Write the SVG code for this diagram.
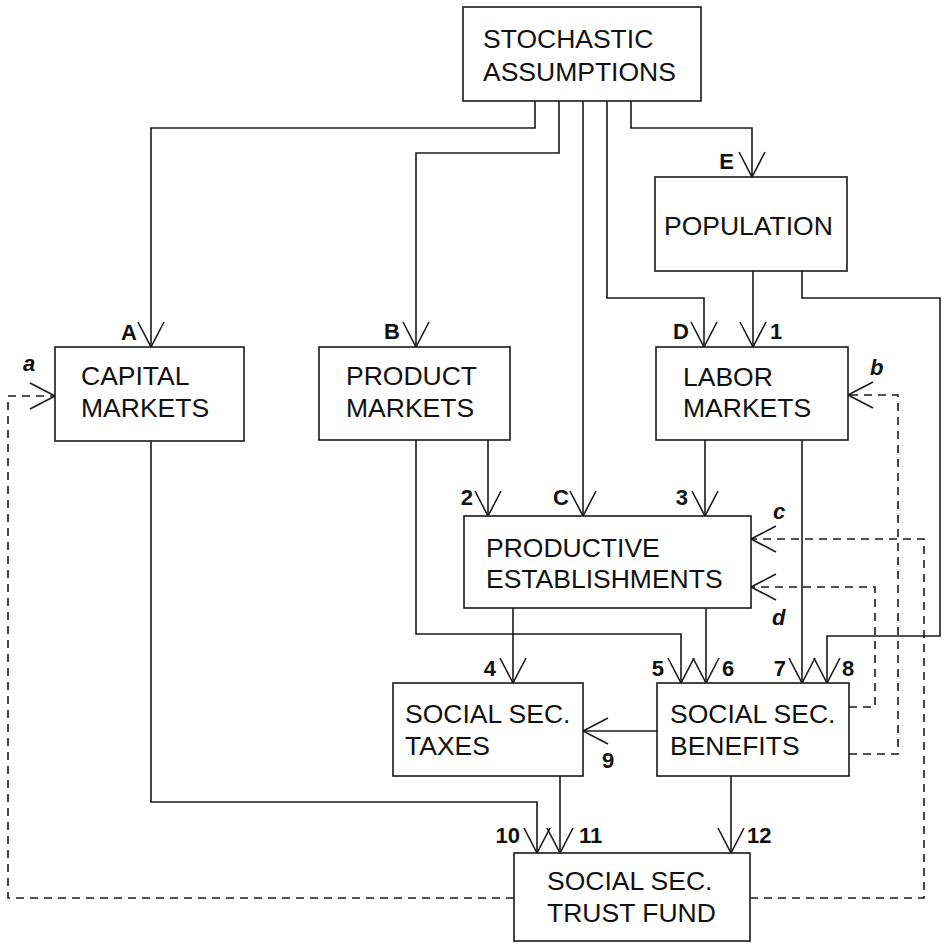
<svg xmlns="http://www.w3.org/2000/svg" width="945" height="945" viewBox="0 0 945 945">
<style>
  .box{fill:#fff;stroke:#1a1a1a;stroke-width:1.6}
  .t{font-family:"Liberation Sans",Arial,Helvetica,sans-serif;font-size:26.5px;fill:#111}
  .lb{font-family:"Liberation Sans",Arial,Helvetica,sans-serif;font-size:22px;font-weight:bold;fill:#111}
  .li{font-family:"Liberation Sans",Arial,Helvetica,sans-serif;font-size:22px;font-weight:bold;font-style:italic;fill:#111}
  .c{fill:none;stroke:#1a1a1a;stroke-width:1.6;marker-end:url(#arr)}
  .d{fill:none;stroke:#1a1a1a;stroke-width:1.6;stroke-dasharray:8 6;marker-end:url(#arr)}
</style>
<defs>
  <marker id="arr" markerUnits="userSpaceOnUse" markerWidth="30" markerHeight="30" viewBox="0 0 30 30" refX="27" refY="15" orient="auto">
    <path d="M2,2 L27,15 L2,28" fill="none" stroke="#1a1a1a" stroke-width="1.6"/>
  </marker>
</defs>
<rect width="945" height="945" fill="#fff"/>
<g id="connectors">
  <path class="c" d="M535,101 V128 H151 V347"/>
  <path class="c" d="M559,101 V153 H416 V347"/>
  <path class="c" d="M583,101 V516"/>
  <path class="c" d="M607,101 V298 H704 V347"/>
  <path class="c" d="M631,101 V128 H752 V177"/>
  <path class="c" d="M753,271 V347"/>
  <path class="c" d="M802,271 V298 H940 V636 H827 V683"/>
  <path class="c" d="M488,440 V516"/>
  <path class="c" d="M416,440 V634 H681 V683"/>
  <path class="c" d="M705,440 V516"/>
  <path class="c" d="M802,440 V683"/>
  <path class="c" d="M513,608 V683"/>
  <path class="c" d="M706,608 V683"/>
  <path class="c" d="M151,441 V802 H537 V853"/>
  <path class="c" d="M560,776 V853"/>
  <path class="c" d="M731,776 V853"/>
  <path class="c" d="M657,731 H583"/>
  <path class="d" d="M514,898 H8 V396 H55"/>
  <path class="d" d="M750,898 H924 V539 H751"/>
  <path class="d" d="M849,754 H898 V395 H848"/>
  <path class="d" d="M849,707 H875 V587 H751"/>
  <text class="lb" x="137" y="340" text-anchor="end">A</text>
  <text class="lb" x="400" y="339" text-anchor="end">B</text>
  <text class="lb" x="569" y="505" text-anchor="end">C</text>
  <text class="lb" x="689" y="339" text-anchor="end">D</text>
  <text class="lb" x="734" y="169" text-anchor="end">E</text>
  <text class="lb" x="770" y="339">1</text>
  <text class="lb" x="473" y="505" text-anchor="end">2</text>
  <text class="lb" x="688" y="505" text-anchor="end">3</text>
  <text class="lb" x="496" y="676" text-anchor="end">4</text>
  <text class="lb" x="664" y="676" text-anchor="end">5</text>
  <text class="lb" x="722" y="676">6</text>
  <text class="lb" x="786" y="676" text-anchor="end">7</text>
  <text class="lb" x="842" y="676">8</text>
  <text class="lb" x="602" y="768">9</text>
  <text class="lb" x="520" y="843" text-anchor="end">10</text>
  <text class="lb" x="579" y="843">11</text>
  <text class="lb" x="747" y="843">12</text>
  <text class="li" x="23" y="371">a</text>
  <text class="li" x="870" y="375">b</text>
  <text class="li" x="773" y="519">c</text>
  <text class="li" x="772" y="625">d</text>
</g>
<g id="stochastic">
  <rect class="box" x="463" y="7" width="238" height="94"/>
  <text class="t" x="483" y="48">STOCHASTIC</text>
  <text class="t" x="483" y="81">ASSUMPTIONS</text>
</g>
<g id="population">
  <rect class="box" x="655" y="177" width="192" height="94"/>
  <text class="t" x="664" y="235">POPULATION</text>
</g>
<g id="capital">
  <rect class="box" x="55" y="347" width="189" height="94"/>
  <text class="t" x="81" y="385">CAPITAL</text>
  <text class="t" x="81" y="417">MARKETS</text>
</g>
<g id="product">
  <rect class="box" x="319" y="347" width="191" height="93"/>
  <text class="t" x="346" y="385">PRODUCT</text>
  <text class="t" x="346" y="417">MARKETS</text>
</g>
<g id="labor">
  <rect class="box" x="656" y="347" width="192" height="93"/>
  <text class="t" x="683" y="386">LABOR</text>
  <text class="t" x="683" y="417">MARKETS</text>
</g>
<g id="productive">
  <rect class="box" x="464" y="516" width="287" height="92"/>
  <text class="t" x="486" y="557">PRODUCTIVE</text>
  <text class="t" x="486" y="588">ESTABLISHMENTS</text>
</g>
<g id="taxes">
  <rect class="box" x="393" y="683" width="190" height="93"/>
  <text class="t" x="405" y="723">SOCIAL SEC.</text>
  <text class="t" x="405" y="755">TAXES</text>
</g>
<g id="benefits">
  <rect class="box" x="657" y="683" width="192" height="93"/>
  <text class="t" x="670" y="723">SOCIAL SEC.</text>
  <text class="t" x="670" y="755">BENEFITS</text>
</g>
<g id="trustfund">
  <rect class="box" x="514" y="853" width="236" height="88"/>
  <text class="t" x="547" y="890">SOCIAL SEC.</text>
  <text class="t" x="547" y="922">TRUST FUND</text>
</g>
</svg>
